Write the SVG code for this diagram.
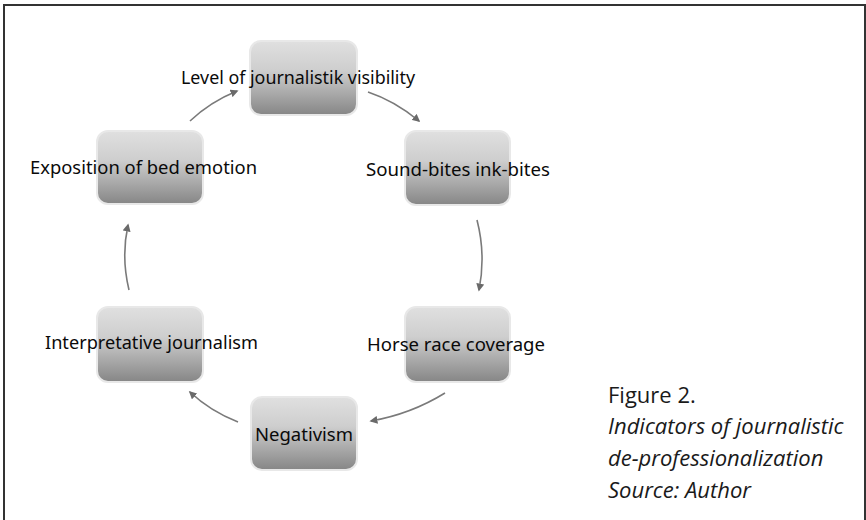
<svg xmlns="http://www.w3.org/2000/svg" width="866" height="520" viewBox="0 0 866 520">
<style>
.box{fill:url(#g);stroke:#e8e8e8;stroke-width:2}
.lbl{font-family:"Noto Sans","Open Sans",sans-serif;font-size:18.5px;fill:#0a0a0a;text-anchor:middle}
.cap{font-family:"Open Sans","Noto Sans",sans-serif;font-size:22px;fill:#1a1a1a}
.arr{fill:none;stroke:#7a7a7a;stroke-width:1.6;marker-end:url(#ah)}
</style>
<defs>
<linearGradient id="g" x1="0" y1="0" x2="0" y2="1">
<stop offset="0" stop-color="#e0e0e0"/>
<stop offset="0.4" stop-color="#cecece"/>
<stop offset="1" stop-color="#868686"/>
</linearGradient>
<marker id="ah" viewBox="0 0 10 10" refX="8" refY="5" markerWidth="5" markerHeight="5" orient="auto" markerUnits="strokeWidth">
<path d="M0,0 L10,5 L0,10 z" fill="#6a6a6a"/>
</marker>
</defs>
<rect x="0" y="0" width="866" height="520" fill="#fff"/>
<path d="M4,530 V5 H865 V530" fill="none" stroke="#333" stroke-width="2"/>
<g id="connectors">
<path class="arr" d="M368,92 Q395,101 419,121"/>
<path class="arr" d="M477,220 Q486,255 479,290"/>
<path class="arr" d="M445,393 Q411,414 371,421"/>
<path class="arr" d="M238,422 Q210,411 190,392"/>
<path class="arr" d="M129,290 Q121,257 128,225"/>
<path class="arr" d="M190,121 Q210,102 237,91"/>
</g>
<g id="n1"><rect class="box" x="250" y="41" width="107" height="74" rx="11"/><text class="lbl" x="298" y="84" textLength="234" lengthAdjust="spacingAndGlyphs">Level of journalistik visibility</text></g>
<g id="n2"><rect class="box" x="405" y="131" width="105" height="74" rx="11"/><text class="lbl" x="458" y="176" textLength="184" lengthAdjust="spacingAndGlyphs">Sound-bites ink-bites</text></g>
<g id="n3"><rect class="box" x="405" y="307" width="105" height="75" rx="11"/><text class="lbl" x="456" y="351" textLength="178" lengthAdjust="spacingAndGlyphs">Horse race coverage</text></g>
<g id="n4"><rect class="box" x="251" y="397" width="106" height="73" rx="11"/><text class="lbl" x="304" y="441" textLength="98" lengthAdjust="spacingAndGlyphs">Negativism</text></g>
<g id="n5"><rect class="box" x="97" y="307" width="106" height="75" rx="11"/><text class="lbl" x="151.5" y="349" textLength="213" lengthAdjust="spacingAndGlyphs">Interpretative journalism</text></g>
<g id="n6"><rect class="box" x="97" y="131" width="106" height="73" rx="11"/><text class="lbl" x="143.5" y="174" textLength="227" lengthAdjust="spacingAndGlyphs">Exposition of bed emotion</text></g>
<g id="caption">
<text class="cap" x="608" y="403">Figure 2.</text>
<text class="cap" x="608" y="434" font-style="italic">Indicators of journalistic</text>
<text class="cap" x="608" y="466" font-style="italic">de-professionalization</text>
<text class="cap" x="608" y="498" font-style="italic">Source: Author</text>
</g>
</svg>
